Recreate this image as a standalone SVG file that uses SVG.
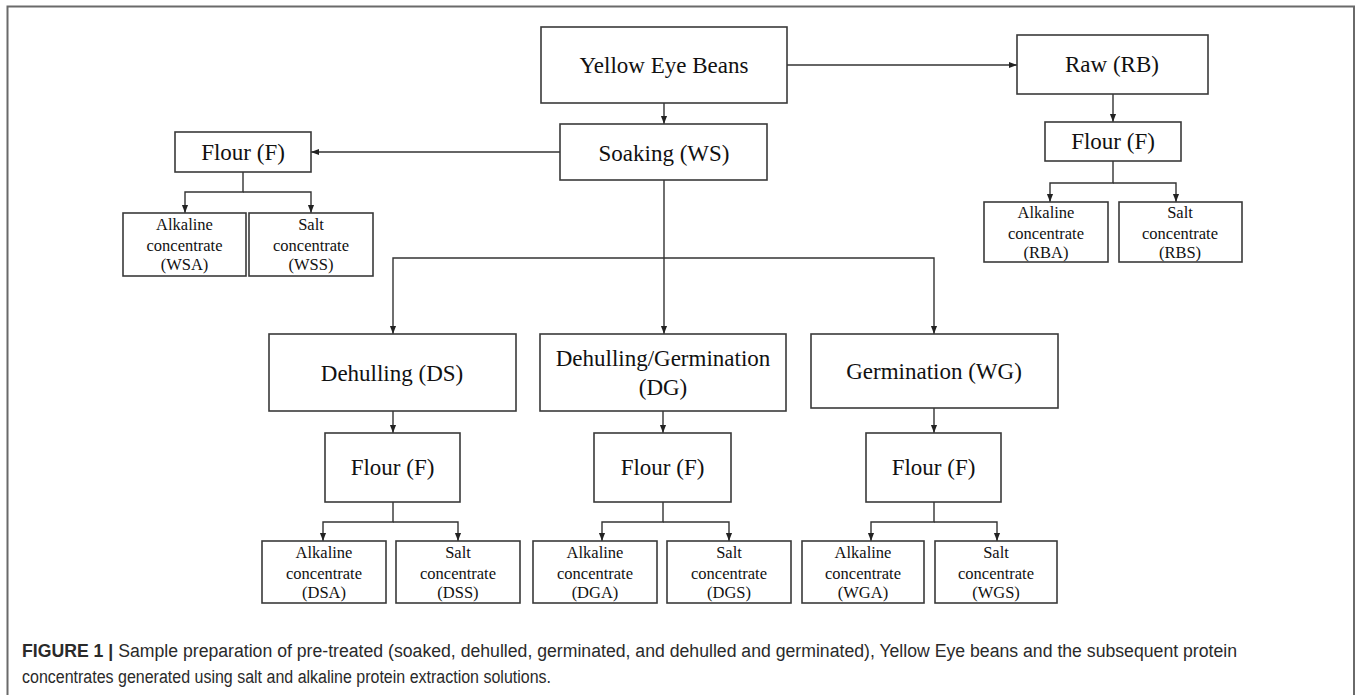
<svg xmlns="http://www.w3.org/2000/svg" width="1357" height="695" viewBox="0 0 1357 695">
<style>
.box{fill:#fff;stroke:#3a3a3a;stroke-width:1.6}
.big{font-family:"Liberation Serif","Times New Roman",serif;font-size:23px;fill:#111;text-anchor:middle}
.sm{font-family:"Liberation Serif","Times New Roman",serif;font-size:16.5px;fill:#111;text-anchor:middle}
.con{fill:none;stroke:#333;stroke-width:1.4}
.arr{marker-end:url(#ah)}
.cap{font-family:"Liberation Sans",Arial,sans-serif;font-size:18px;fill:#2a2a2a}
</style>
<defs>
<marker id="ah" viewBox="0 0 10 10" refX="10" refY="5" markerWidth="8" markerHeight="8" markerUnits="userSpaceOnUse" orient="auto">
<path d="M0,1.2 L10,5 L0,8.8 z" fill="#222"/>
</marker>
</defs>
<rect width="1357" height="695" fill="#fff"/>
<g id="frame">
<path d="M7.5,695 V6.5 H1354 V695" fill="none" stroke="#6a6a6a" stroke-width="2"/>
</g>
<g id="connectors">
<path class="con arr" d="M664,103 V124"/>
<path class="con arr" d="M787,65 H1017"/>
<path class="con arr" d="M1113,94 V122"/>
<path class="con arr" d="M1113,161 V183 H1050 V202"/>
<path class="con arr" d="M1113,183 H1176 V202"/>
<path class="con arr" d="M560,152 H311"/>
<path class="con arr" d="M243,172 V192 H185 V213"/>
<path class="con arr" d="M243,192 H311 V213"/>
<path class="con arr" d="M664,180 V334"/>
<path class="con arr" d="M664,258 H393 V334"/>
<path class="con arr" d="M664,258 H934 V334"/>
<path class="con arr" d="M393,411 V433"/>
<path class="con arr" d="M663,411 V433"/>
<path class="con arr" d="M934,408 V433"/>
<path class="con arr" d="M393,502 V522 H323 V541"/>
<path class="con arr" d="M393,522 H458 V541"/>
<path class="con arr" d="M663,502 V522 H602 V541"/>
<path class="con arr" d="M663,522 H729 V541"/>
<path class="con arr" d="M934,502 V522 H871 V541"/>
<path class="con arr" d="M934,522 H997 V541"/>
</g>
<g id="yellow-eye-beans"><rect class="box" x="541" y="27" width="246" height="76"/><text class="big" x="664" y="73">Yellow Eye Beans</text></g>
<g id="soaking"><rect class="box" x="560" y="124" width="207" height="56"/><text class="big" x="664" y="161">Soaking (WS)</text></g>
<g id="raw"><rect class="box" x="1017" y="35" width="191" height="59"/><text class="big" x="1112" y="72">Raw (RB)</text></g>
<g id="flour-rb"><rect class="box" x="1045" y="122" width="136" height="39"/><text class="big" x="1113" y="149">Flour (F)</text></g>
<g id="rba"><rect class="box" x="984" y="202" width="124" height="60"/><text class="sm" x="1046"><tspan x="1046" y="218">Alkaline</tspan><tspan x="1046" y="239">concentrate</tspan><tspan x="1046" y="258">(RBA)</tspan></text></g>
<g id="rbs"><rect class="box" x="1119" y="202" width="123" height="60"/><text class="sm" x="1180"><tspan x="1180" y="218">Salt</tspan><tspan x="1180" y="239">concentrate</tspan><tspan x="1180" y="258">(RBS)</tspan></text></g>
<g id="flour-ws"><rect class="box" x="175" y="132" width="136" height="40"/><text class="big" x="243" y="160">Flour (F)</text></g>
<g id="wsa"><rect class="box" x="123" y="213" width="123" height="63"/><text class="sm"><tspan x="184.5" y="230">Alkaline</tspan><tspan x="184.5" y="251">concentrate</tspan><tspan x="184.5" y="270">(WSA)</tspan></text></g>
<g id="wss"><rect class="box" x="249" y="213" width="124" height="63"/><text class="sm"><tspan x="311" y="230">Salt</tspan><tspan x="311" y="251">concentrate</tspan><tspan x="311" y="270">(WSS)</tspan></text></g>
<g id="dehulling"><rect class="box" x="269" y="334" width="247" height="77"/><text class="big" x="392" y="381">Dehulling (DS)</text></g>
<g id="dehulling-germination"><rect class="box" x="540" y="334" width="246" height="77"/><text class="big"><tspan x="663" y="366">Dehulling/Germination</tspan><tspan x="663" y="395">(DG)</tspan></text></g>
<g id="germination"><rect class="box" x="811" y="334" width="247" height="74"/><text class="big" x="934" y="379">Germination (WG)</text></g>
<g id="flour-ds"><rect class="box" x="325" y="433" width="135" height="69"/><text class="big" x="392.5" y="475">Flour (F)</text></g>
<g id="flour-dg"><rect class="box" x="594" y="433" width="137" height="69"/><text class="big" x="662.5" y="475">Flour (F)</text></g>
<g id="flour-wg"><rect class="box" x="866" y="433" width="135" height="69"/><text class="big" x="933.5" y="475">Flour (F)</text></g>
<g id="dsa"><rect class="box" x="262" y="541" width="124" height="62"/><text class="sm"><tspan x="324" y="558">Alkaline</tspan><tspan x="324" y="579">concentrate</tspan><tspan x="324" y="598">(DSA)</tspan></text></g>
<g id="dss"><rect class="box" x="396" y="541" width="124" height="62"/><text class="sm"><tspan x="458" y="558">Salt</tspan><tspan x="458" y="579">concentrate</tspan><tspan x="458" y="598">(DSS)</tspan></text></g>
<g id="dga"><rect class="box" x="533" y="541" width="124" height="62"/><text class="sm"><tspan x="595" y="558">Alkaline</tspan><tspan x="595" y="579">concentrate</tspan><tspan x="595" y="598">(DGA)</tspan></text></g>
<g id="dgs"><rect class="box" x="667" y="541" width="124" height="62"/><text class="sm"><tspan x="729" y="558">Salt</tspan><tspan x="729" y="579">concentrate</tspan><tspan x="729" y="598">(DGS)</tspan></text></g>
<g id="wga"><rect class="box" x="802" y="541" width="122" height="62"/><text class="sm"><tspan x="863" y="558">Alkaline</tspan><tspan x="863" y="579">concentrate</tspan><tspan x="863" y="598">(WGA)</tspan></text></g>
<g id="wgs"><rect class="box" x="935" y="541" width="122" height="62"/><text class="sm"><tspan x="996" y="558">Salt</tspan><tspan x="996" y="579">concentrate</tspan><tspan x="996" y="598">(WGS)</tspan></text></g>
<g id="caption">
<text class="cap" x="22" y="657" textLength="1215" lengthAdjust="spacingAndGlyphs"><tspan font-weight="bold">FIGURE 1 |</tspan> Sample preparation of pre-treated (soaked, dehulled, germinated, and dehulled and germinated), Yellow Eye beans and the subsequent protein</text>
<text class="cap" x="22" y="683" textLength="529" lengthAdjust="spacingAndGlyphs">concentrates generated using salt and alkaline protein extraction solutions.</text>
</g>
</svg>
